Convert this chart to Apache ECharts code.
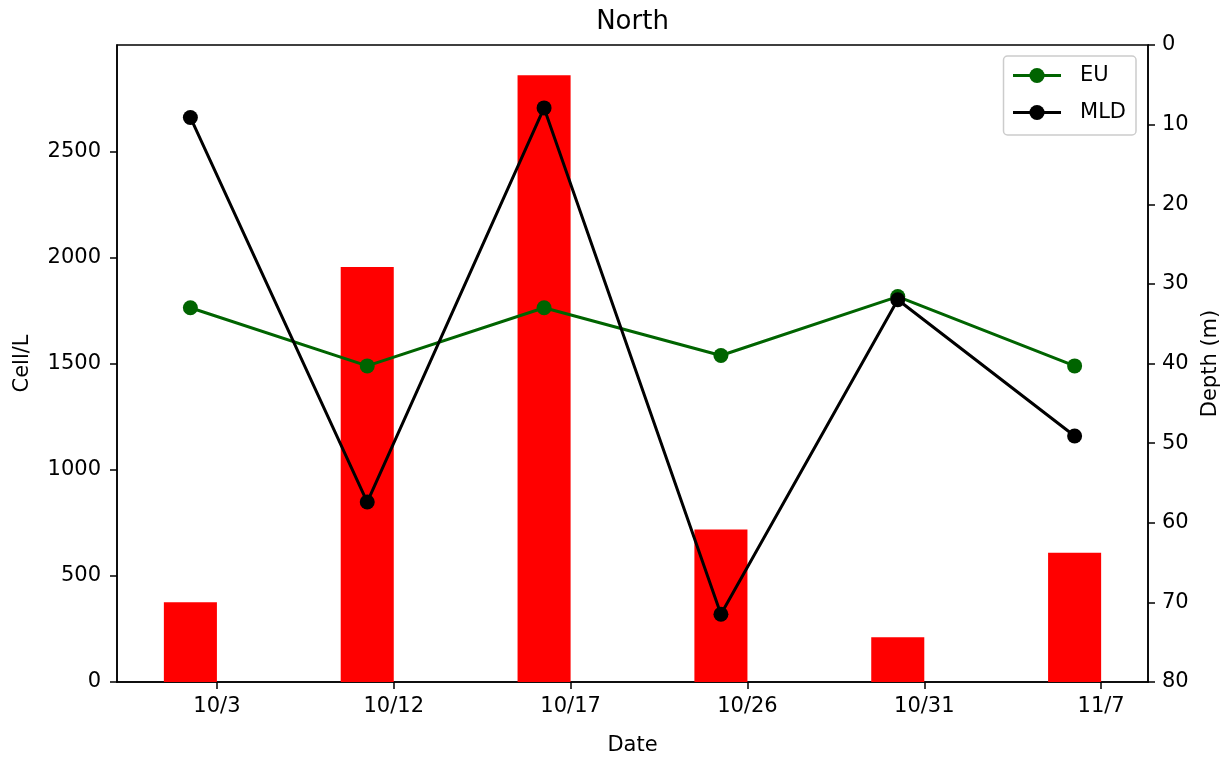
<!DOCTYPE html>
<html>
<head>
<meta charset="utf-8">
<script src="https://cdn.jsdelivr.net/npm/echarts@6/dist/echarts.min.js"></script>
<style>
  html, body { margin: 0; padding: 0; background: #fff; }
  #chart { width: 1231px; height: 761px; }
</style>
</head>
<body>
<div id="chart"></div>
<script>
// Sampling dates and measurements at the North station
const dates = ['10/3', '10/12', '10/17', '10/26', '10/31', '11/7'];
const cellCounts = [376, 1956, 2860, 719, 211, 609];      // Cell/L (bars, left axis)
const euDepth = [33.0, 40.3, 33.0, 39.0, 31.6, 40.3];     // EU depth, m (right axis)
const mldDepth = [9.1, 57.4, 7.9, 71.5, 32.0, 49.1];      // MLD depth, m (right axis)
const cellTicks = [0, 500, 1000, 1500, 2000, 2500];
const depthTicks = [0, 10, 20, 30, 40, 50, 60, 70, 80];

// Bars sit just left of each date tick; lines pass through bar centres
const BAR_W = 0.3;
const offset = -BAR_W / 2;
const xMin = -BAR_W - 0.05 * (dates.length - 1 + BAR_W);
const xMax = (dates.length - 1) + 0.05 * (dates.length - 1 + BAR_W);
const cellMax = Math.max(...cellCounts) * 1.05;

const GRID = { left: 117, top: 45, width: 1031, height: 640 };
const barPx = BAR_W * GRID.width / (xMax - xMin);

const FONT = 'DejaVu Sans';
const txt = { fontFamily: FONT, fontSize: 21, color: '#000' };
const plain = v => String(v);

const chart = echarts.init(document.getElementById('chart'), null, { renderer: 'canvas' });

chart.setOption({
  animation: false,
  backgroundColor: '#fff',
  title: {
    text: 'North',
    left: GRID.left + GRID.width / 2 - 5,
    textAlign: 'center',
    top: 4,
    textStyle: { fontFamily: FONT, fontSize: 26, fontWeight: 'normal', color: '#000' }
  },
  legend: {
    orient: 'vertical',
    right: 95,
    top: 56,
    data: ['EU', 'MLD'],
    itemWidth: 48,
    itemHeight: 19,
    itemGap: 16,
    padding: [9, 10, 12, 8],
    borderColor: '#cccccc',
    borderWidth: 1.5,
    borderRadius: 4,
    backgroundColor: 'rgba(255,255,255,0.8)',
    lineStyle: { width: 3 },
    textStyle: { ...txt, padding: [0, 0, 0, 14] }
  },
  grid: {
    left: GRID.left, top: GRID.top, width: GRID.width, height: GRID.height,
    show: true, borderColor: '#000', borderWidth: 1.5, containLabel: false
  },
  xAxis: {
    type: 'value',
    min: xMin,
    max: xMax,
    name: 'Date',
    nameLocation: 'middle',
    nameGap: 53,
    nameTextStyle: txt,
    axisLine: { show: true, onZero: false, lineStyle: { color: '#000', width: 1.5 } },
    axisTick: { show: true, length: 7, lineStyle: { color: '#000', width: 1.5 }, customValues: dates.map((d, i) => i) },
    axisLabel: {
      ...txt, margin: 14,
      customValues: dates.map((d, i) => i),
      formatter: v => dates[Math.round(v)]
    },
    splitLine: { show: false }
  },
  yAxis: [
    {
      type: 'value',
      min: 0,
      max: cellMax,
      position: 'left',
      name: 'Cell/L',
      nameLocation: 'middle',
      nameGap: 84,
      nameRotate: 90,
      nameTextStyle: txt,
      axisLine: { show: true, onZero: false, lineStyle: { color: '#000', width: 1.5 } },
      axisTick: { show: true, length: 7, lineStyle: { color: '#000', width: 1.5 }, customValues: cellTicks },
      axisLabel: { ...txt, margin: 16, customValues: cellTicks, formatter: plain },
      splitLine: { show: false }
    },
    {
      type: 'value',
      min: 0,
      max: 80,
      inverse: true,
      position: 'right',
      name: 'Depth (m)',
      nameLocation: 'middle',
      nameGap: 52,
      nameRotate: 90,
      nameTextStyle: txt,
      axisLine: { show: true, onZero: false, lineStyle: { color: '#000', width: 1.5 } },
      axisTick: { show: true, length: 7, lineStyle: { color: '#000', width: 1.5 }, customValues: depthTicks },
      axisLabel: { ...txt, margin: 14, customValues: depthTicks, formatter: plain },
      splitLine: { show: false }
    }
  ],
  series: [
    {
      name: 'Cell/L',
      type: 'bar',
      xAxisIndex: 0,
      yAxisIndex: 0,
      barWidth: barPx,
      itemStyle: { color: '#ff0000' },
      data: cellCounts.map((v, i) => [i + offset, v]),
      z: 1
    },
    {
      name: 'EU',
      type: 'line',
      xAxisIndex: 0,
      yAxisIndex: 1,
      symbol: 'circle',
      symbolSize: 15,
      lineStyle: { color: '#006400', width: 3 },
      itemStyle: { color: '#006400' },
      data: euDepth.map((v, i) => [i + offset, v]),
      z: 3
    },
    {
      name: 'MLD',
      type: 'line',
      xAxisIndex: 0,
      yAxisIndex: 1,
      symbol: 'circle',
      symbolSize: 15,
      lineStyle: { color: '#000000', width: 3 },
      itemStyle: { color: '#000000' },
      data: mldDepth.map((v, i) => [i + offset, v]),
      z: 4
    }
  ]
});
</script>
</body>
</html>
